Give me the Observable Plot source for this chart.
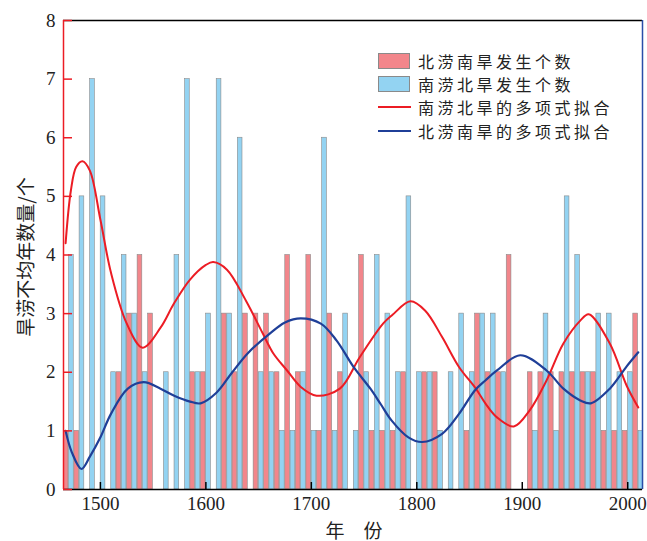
<!DOCTYPE html>
<html><head><meta charset="utf-8">
<script src="https://cdn.jsdelivr.net/npm/d3@7"></script>
<script src="https://cdn.jsdelivr.net/npm/@observablehq/plot@0.6"></script>
<style>
body{margin:0;background:#fff;}
#wrap{position:relative;width:647px;height:541px;}
.cjk{font-family:"Noto Sans CJK SC","Noto Sans",sans-serif;color:#222;line-height:1;}
.leg{position:absolute;left:378px;top:49px;font-size:16px;}
.row{display:flex;align-items:center;height:23.4px;white-space:nowrap;letter-spacing:3.5px;line-height:1;}
.row span{line-height:1;display:block;}
.sw{width:32px;height:16px;box-sizing:border-box;border:1px solid #8a8a8a;margin-right:8px;}
.ln{width:33px;height:0;border-top:2.5px solid;margin-right:7px;}
.ytitle{position:absolute;left:24px;top:257px;transform:translate(-50%,-50%) rotate(-90deg);font-size:19px;white-space:nowrap;}
.xtitle{position:absolute;left:354px;top:529px;transform:translate(-50%,-50%);font-size:19px;white-space:pre;}
</style></head>
<body>
<div id="wrap"></div>
<script>
const decades = [1470,1480,1490,1500,1510,1520,1530,1540,1550,1560,
  1570,1580,1590,1600,1610,1620,1630,1640,1650,1660,
  1670,1680,1690,1700,1710,1720,1730,1740,1750,1760,
  1770,1780,1790,1800,1810,1820,1830,1840,1850,1860,
  1870,1880,1890,1900,1910,1920,1930,1940,1950,1960,
  1970,1980,1990,2000,2010];
// 北涝南旱发生个数
const northFloodCounts = [1,1,0,0,0,2,3,4,3,0, 0,0,2,2,0,3,2,3,3,3, 2,4,2,4,1,3,2,0,4,1, 1,1,2,0,2,2,0,0,1,3, 2,2,4,0,2,2,2,2,2,2, 2,1,1,1,3];
// 南涝北旱发生个数
const southFloodCounts = [4,5,7,5,2,4,3,2,0,2, 4,7,2,3,7,3,6,0,2,2, 1,1,2,1,6,1,3,1,2,4, 3,2,5,2,2,1,2,3,2,3, 3,2,0,0,1,3,1,5,4,2, 3,3,2,2,1];
// 南涝北旱的多项式拟合
const southFitYears  = [1467,1472,1477,1483,1490,1500,1510,1525,1540,1557,1570,1585,1600,1607,1620,1638,1654,1664,1677,1690,1705,1727,1746,1768,1777,1794,1808,1824,1840,1856,1865,1876,1892,1907,1923,1939,1955,1963,1983,1999,2010];
const southFitValues = [4.2,5.1,5.5,5.6,5.44,4.6,3.7,2.83,2.42,2.76,3.18,3.58,3.83,3.88,3.75,3.22,2.66,2.32,2.03,1.75,1.6,1.72,2.26,2.83,2.98,3.21,3.05,2.6,2.09,1.72,1.47,1.23,1.075,1.35,1.86,2.49,2.88,2.99,2.49,1.77,1.4];
// 北涝南旱的多项式拟合
const northFitYears  = [1467,1473,1482,1490,1500,1510,1526,1541,1557,1570,1585,1595,1610,1625,1640,1660,1675,1690,1709,1724,1740,1756,1766,1776,1792,1805,1824,1840,1855,1865,1876,1898,1923,1939,1955,1965,1983,1999,2010];
const northFitValues = [1.0,0.63,0.35,0.56,0.89,1.29,1.72,1.83,1.72,1.6,1.5,1.47,1.65,2.0,2.33,2.65,2.85,2.92,2.83,2.54,2.09,1.72,1.45,1.18,0.89,0.81,0.95,1.29,1.69,1.86,2.03,2.29,2.03,1.72,1.52,1.47,1.72,2.1,2.34];
const yTicks = [0,1,2,3,4,5,6,7,8];
const xTicks = [1500,1600,1700,1800,1900,2000];
const legendLabels = ["北涝南旱发生个数","南涝北旱发生个数","南涝北旱的多项式拟合","北涝南旱的多项式拟合"];
const yTitle = "旱涝不均年数量/个";
const xTitle = "年　份";

const RED_FILL = "#f2868b", BLUE_FILL = "#93d3f2", RED_LINE = "#ec1c24", BLUE_LINE = "#1f3f98";

const northBars = decades.map((d,i)=>({decade:d, v:northFloodCounts[i]})).filter(d=>d.v>0);
const southBars = decades.map((d,i)=>({decade:d, v:southFloodCounts[i]})).filter(d=>d.v>0);
const southFit = southFitYears.map((y,i)=>({year:y, v:southFitValues[i]}));
const northFit = northFitYears.map((y,i)=>({year:y, v:northFitValues[i]}));

const chart = Plot.plot({
  width: 647, height: 541,
  marginLeft: 63, marginRight: 5, marginTop: 20, marginBottom: 52,
  style: {fontFamily: "Liberation Serif, serif", fontSize: "19px", color: "#222", background: "#fff"},
  x: {domain: [1465, 2014]},
  y: {domain: [0, 8]},
  marks: [
    Plot.rectY(northBars, {x1: d=>d.decade-5, x2: d=>d.decade, y: "v", fill: RED_FILL, stroke: "#8a8a8a", strokeWidth: 0.6, insetLeft: 0.3, insetRight: 0.3}),
    Plot.rectY(southBars, {x1: d=>d.decade, x2: d=>d.decade+5, y: "v", fill: BLUE_FILL, stroke: "#8a8a8a", strokeWidth: 0.6, insetLeft: 0.3, insetRight: 0.3}),
    Plot.line(southFit, {x: "year", y: "v", stroke: RED_LINE, strokeWidth: 2, curve: "catmull-rom"}),
    Plot.line(northFit, {x: "year", y: "v", stroke: BLUE_LINE, strokeWidth: 2.2, curve: "catmull-rom"}),
    Plot.ruleY([8], {stroke: "#000", strokeWidth: 1.5}),
    Plot.ruleY([0], {stroke: "#000", strokeWidth: 1.5}),
    Plot.ruleX([2014], {stroke: "#2a4ea8", strokeWidth: 1.5}),
    Plot.ruleX([1465], {stroke: RED_LINE, strokeWidth: 1.5}),
    Plot.axisY(yTicks, {anchor: "left", tickSize: -9, tickPadding: 17, stroke: RED_LINE, fill: "#222", strokeWidth: 1.5, tickFormat: d => String(d), label: null}),
    Plot.axisX(xTicks, {anchor: "bottom", tickSize: -7, tickPadding: 14, stroke: "#000", fill: "#222", strokeWidth: 1.5, tickFormat: d => String(d), label: null})
  ]
});
const wrap = document.getElementById("wrap");
wrap.appendChild(chart);

const leg = document.createElement("div");
leg.className = "leg cjk";
const kinds = [["sw", RED_FILL], ["sw", BLUE_FILL], ["ln", RED_LINE], ["ln", BLUE_LINE]];
legendLabels.forEach((t,i)=>{
  const row = document.createElement("div"); row.className = "row";
  const k = document.createElement("div"); k.className = kinds[i][0];
  if (kinds[i][0]==="sw") k.style.background = kinds[i][1]; else k.style.borderTopColor = kinds[i][1];
  const s = document.createElement("span"); s.textContent = t;
  row.appendChild(k); row.appendChild(s); leg.appendChild(row);
});
wrap.appendChild(leg);
const yt = document.createElement("div"); yt.className = "ytitle cjk"; yt.textContent = yTitle; wrap.appendChild(yt);
const xt = document.createElement("div"); xt.className = "xtitle cjk"; xt.textContent = xTitle; wrap.appendChild(xt);
</script>
</body></html>
